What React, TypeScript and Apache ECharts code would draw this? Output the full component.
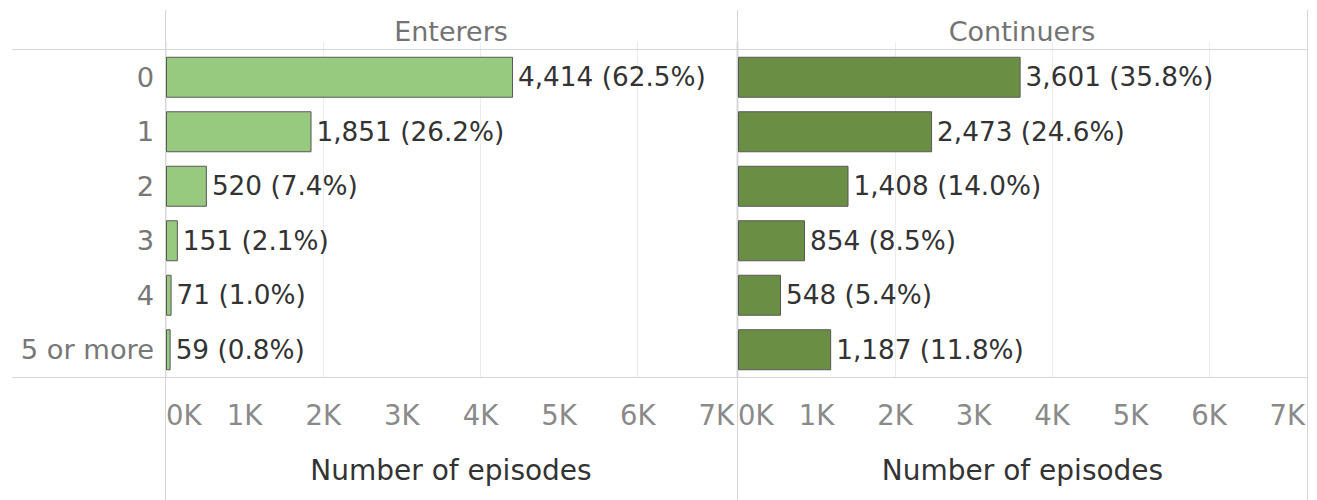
import React, { useEffect, useRef } from "react";
import * as echarts from "echarts";

const categories = ["0", "1", "2", "3", "4", "5 or more"];
const enterersValues = [4414, 1851, 520, 151, 71, 59];
const enterersPct = ["62.5", "26.2", "7.4", "2.1", "1.0", "0.8"];
const continuersValues = [3601, 2473, 1408, 854, 548, 1187];
const continuersPct = ["35.8", "24.6", "14.0", "8.5", "5.4", "11.8"];
const panelTitles = ["Enterers", "Continuers"];
const axisTitle = "Number of episodes";
const xMin = 0;
const xMax = 7250;
const labelInterval = 1000;
const gridInterval = 2000;

const FONT = "DejaVu Sans";
const FRAME = "#d6d6d6";
const GRIDC = "#ececec";

export default function App() {
  const ref = useRef<HTMLDivElement>(null);
  useEffect(() => {
    if (!ref.current) return;
    const chart = echarts.init(ref.current, null, { renderer: "svg" });

    const grids = [
      { left: 166, top: 50, width: 570, height: 327 },
      { left: 738, top: 50, width: 569, height: 327 },
    ];

    const mainX = (gi: number) => ({
      type: "value",
      gridIndex: gi,
      min: xMin,
      max: xMax,
      interval: labelInterval,
      axisLine: { show: false },
      axisTick: { show: false },
      splitLine: { show: false },
      axisLabel: {
        show: true,
        color: "#8a8a8a",
        fontFamily: FONT,
        fontSize: 27.5,
        lineHeight: 27,
        margin: 24,
        alignMinLabel: "left",
        formatter: (v: number) => (v % 1000 === 0 ? `${v / 1000}K` : ""),
      },
      name: axisTitle,
      nameLocation: "middle",
      nameGap: 79,
      nameTextStyle: { color: "#333", fontFamily: FONT, fontSize: 28, lineHeight: 28 },
    });
    const gridX = (gi: number) => ({
      type: "value",
      gridIndex: gi,
      min: xMin,
      max: xMax,
      interval: gridInterval,
      axisLine: { show: false },
      axisTick: { show: true, length: 8, lineStyle: { color: GRIDC, width: 1 } },
      splitLine: { show: true, lineStyle: { color: GRIDC, width: 1 } },
      axisLabel: { show: false },
    });
    const catY = (gi: number, showLabels: boolean) => ({
      type: "category",
      gridIndex: gi,
      data: categories,
      inverse: true,
      axisLine: { show: false },
      axisTick: { show: false },
      splitLine: { show: false },
      axisLabel: {
        show: showLabels,
        color: "#777",
        fontFamily: FONT,
        fontSize: 27.3,
        margin: 12,
      },
    });

    const barSeries = (gi: number, values: number[], pcts: string[], color: string) => ({
      type: "bar",
      xAxisIndex: gi * 2,
      yAxisIndex: gi,
      data: values,
      barWidth: 41,
      itemStyle: { color, borderColor: "#585858", borderWidth: 1 },
      label: {
        show: true,
        position: "right",
        distance: 5,
        color: "#333",
        fontFamily: FONT,
        fontSize: 26.3,
        formatter: (p: any) =>
          `${Number(p.value).toLocaleString("en-US")} (${pcts[p.dataIndex]}%)`,
      },
    });

    const line = (x1: number, y1: number, x2: number, y2: number) => ({
      type: "line",
      silent: true,
      shape: { x1, y1, x2, y2 },
      style: { stroke: FRAME, lineWidth: 1 },
      z: 10,
    });

    const header = (x: number, text: string) => ({
      type: "text",
      x,
      y: 31,
      style: {
        text,
        fill: "#737373",
        font: `27px "${FONT}"`,
        textAlign: "center",
        textVerticalAlign: "middle",
      },
    });

    chart.setOption({
      animation: false,
      backgroundColor: "#ffffff",
      textStyle: { fontFamily: FONT },
      grid: grids,
      xAxis: [mainX(0), gridX(0), mainX(1), gridX(1)],
      yAxis: [catY(0, true), catY(1, false)],
      series: [
        barSeries(0, enterersValues, enterersPct, "#97c97e"),
        barSeries(1, continuersValues, continuersPct, "#6b8e45"),
      ],
      graphic: [
        line(165.5, 10, 165.5, 500),
        line(737.5, 10, 737.5, 500),
        line(1307.5, 10, 1307.5, 500),
        line(12, 49.5, 1307.5, 49.5),
        line(12, 377.5, 1307.5, 377.5),
        header(451, panelTitles[0]),
        header(1022, panelTitles[1]),
      ],
    });
    return () => chart.dispose();
  }, []);
  return (
    <div
      ref={ref}
      style={{ position: "absolute", left: 0, top: 0, width: 1317, height: 500 }}
    />
  );
}
